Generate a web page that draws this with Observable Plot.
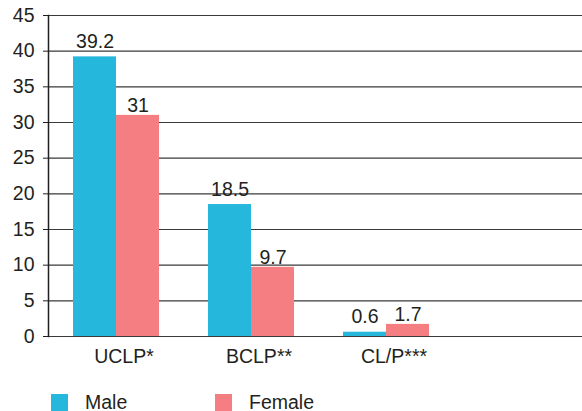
<!DOCTYPE html>
<html>
<head>
<meta charset="utf-8">
<script src="https://cdn.jsdelivr.net/npm/d3@7"></script>
<script src="https://cdn.jsdelivr.net/npm/@observablehq/plot@0.6"></script>
<style>
  html, body { margin: 0; padding: 0; background: #fff; }
  #chart svg { display: block; }
  #legend { display: flex; align-items: center; height: 34px; padding-left: 51px;
    font-family: "Liberation Sans", Arial, sans-serif; font-size: 19.5px; color: #231f20; }
  .item { display: flex; align-items: center; width: 164px; }
  .swatch { width: 17px; height: 17px; margin-right: 17px; }
</style>
</head>
<body>
<div id="chart"></div>
<div id="legend"></div>
<script>
const categories = ["UCLP*", "BCLP**", "CL/P***"];
const sexes = ["Male", "Female"];
const maleValues = [39.2, 18.5, 0.6];
const femaleValues = [31, 9.7, 1.7];
const yTicks = [0, 5, 10, 15, 20, 25, 30, 35, 40, 45];
const colors = ["#25b7dc", "#f47e82"];
const spacer = " ";

const data = categories.flatMap((c, i) => [
  {cat: c, sex: "Male", value: maleValues[i]},
  {cat: c, sex: "Female", value: femaleValues[i]}
]);
const gridData = [...categories, spacer].flatMap(c => yTicks.map(t => ({cat: c, y: t})));

const fontSize = 19.5;

const chart = Plot.plot({
  width: 582,
  height: 385,
  marginLeft: 47,
  marginRight: 0,
  marginTop: 15,
  marginBottom: 49,
  style: {fontFamily: "Liberation Sans, Arial, sans-serif", fontSize: fontSize + "px", color: "#231f20", background: "#fff"},
  fx: {domain: [...categories, spacer], padding: 0, range: [47, 589], axis: null},
  x: {domain: sexes, paddingInner: 0, paddingOuter: 0.54, axis: null},
  y: {domain: [0, 45], axis: null},
  color: {domain: sexes, range: colors},
  marks: [
    Plot.ruleY(gridData, {fx: "cat", y: "y", stroke: "#3a3a3a", strokeWidth: 1.2}),
    Plot.barY(data, {fx: "cat", x: "sex", y: "value", fill: "sex"}),
    Plot.text(data.filter(d => d.sex === "Male"), {fx: "cat", x: "sex", y: "value", text: d => String(d.value), lineAnchor: "bottom", dy: -9, fontSize, fill: "#231f20"}),
    Plot.text(data.filter(d => d.sex === "Female"), {fx: "cat", x: "sex", y: "value", text: d => String(d.value), lineAnchor: "bottom", dy: -3, fontSize, fill: "#231f20"}),
    Plot.axisY(yTicks, {tickSize: 5, tickPadding: 9, fontSize, stroke: "#231f20", fill: "#231f20", label: null}),
    Plot.frame({anchor: "left", facetAnchor: "left", stroke: "#231f20", strokeWidth: 1.5}),
    Plot.axisFx({anchor: "bottom", tickSize: 0, tickPadding: 13, fontSize, dx: 8, fill: "#231f20", label: null})
  ]
});
document.getElementById("chart").appendChild(chart);

const legend = document.getElementById("legend");
sexes.forEach((s, i) => {
  const item = document.createElement("div");
  item.className = "item";
  const sw = document.createElement("div");
  sw.className = "swatch";
  sw.style.background = colors[i];
  const lab = document.createElement("span");
  lab.textContent = s;
  item.appendChild(sw);
  item.appendChild(lab);
  legend.appendChild(item);
});
</script>
</body>
</html>
